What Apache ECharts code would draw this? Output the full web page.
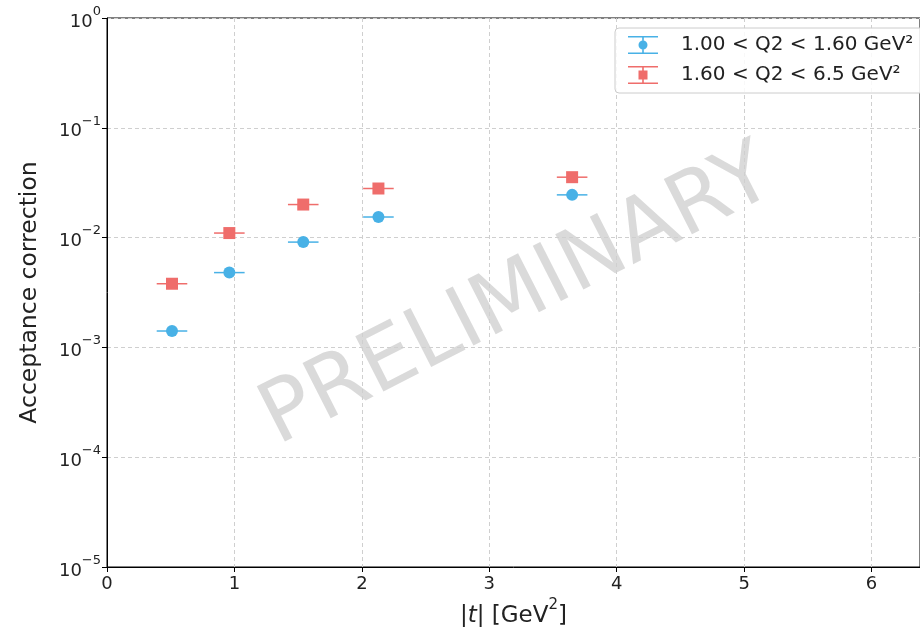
<!DOCTYPE html>
<html>
<head>
<meta charset="utf-8">
<script src="https://cdn.jsdelivr.net/npm/echarts@6/dist/echarts.min.js"></script>
<style>
  html, body { margin: 0; padding: 0; background: #fff; }
  #main { width: 920px; height: 628px; }
</style>
</head>
<body>
<div id="main"></div>
<script>
// |t| bins and acceptance values
var tLow = [0.51, 0.96, 1.54, 2.13, 3.65];
var accLow = [1.41e-3, 4.8e-3, 9.1e-3, 1.54e-2, 2.45e-2];
var tHigh = [0.51, 0.96, 1.54, 2.13, 3.65];
var accHigh = [3.8e-3, 1.1e-2, 2.0e-2, 2.8e-2, 3.55e-2];
var tErr = [0.12, 0.12, 0.12, 0.12, 0.12];
var names = ['1.00 < Q2 < 1.60 GeV²', '1.60 < Q2 < 6.5 GeV²'];
var colors = ['#48b1e6', '#ef6d6b'];

var FONT = 'DejaVu Sans';
var chart = echarts.init(document.getElementById('main'));

function pts(xs, ys) {
  return xs.map(function (x, i) { return [x, ys[i], tErr[i]]; });
}

// horizontal error bar
function errBar(color) {
  return function (params, api) {
    var x = api.value(0), y = api.value(1), e = api.value(2);
    var a = api.coord([x - e, y]);
    var b = api.coord([x + e, y]);
    return {
      type: 'line',
      shape: { x1: a[0], y1: a[1], x2: b[0], y2: b[1] },
      style: { stroke: color, lineWidth: 1.5 }
    };
  };
}

// legend icons: vertical error bar with caps + marker
var capPath = 'M0,0 h30 v1.6 h-30 z M0,16.4 h30 v1.6 h-30 z M14.2,0 h1.6 v4.5 h-1.6 z M14.2,13.5 h1.6 v4.5 h-1.6 z ';
var iconCircle = 'path://' + capPath + 'M19.5,9 A4.5,4.5 0 1 1 10.5,9 A4.5,4.5 0 1 1 19.5,9 z';
var iconSquare = 'path://' + capPath + 'M10.5,4.5 h9 v9 h-9 z';

function supLabel(v) {
  var e = Math.round(Math.log(v) / Math.LN10);
  var s = e < 0 ? '\u2212' + (-e) : String(e);
  return '{b|10}{s|' + s + '}';
}

var option = {
  backgroundColor: '#fff',
  animation: false,
  grid: {
    left: 107, right: 0, top: 18, bottom: 61,
    outerBoundsMode: 'none', containLabel: false,
    show: true, borderColor: '#000', borderWidth: 1
  },
  xAxis: {
    type: 'value', min: 0, max: 6.38, interval: 1,
    name: '{a||}{i|t}{a|| [GeV}{s|2}{a|]}',
    nameLocation: 'middle', nameGap: 26,
    nameTextStyle: {
      rich: {
        a: { fontFamily: FONT, fontSize: 23, color: '#222', verticalAlign: 'bottom', lineHeight: 30 },
        i: { fontFamily: FONT, fontSize: 23, color: '#222', fontStyle: 'italic', verticalAlign: 'bottom', lineHeight: 30 },
        s: { fontFamily: FONT, fontSize: 15, color: '#222', verticalAlign: 'top', lineHeight: 30 }
      }
    },
    axisLine: { onZero: false, lineStyle: { color: '#000', width: 1 } },
    axisTick: { show: true, inside: false, length: 5, lineStyle: { color: '#000' } },
    axisLabel: { showMaxLabel: false, fontFamily: FONT, fontSize: 18, color: '#222', margin: 8 },
    splitLine: { show: true, lineStyle: { color: '#cfcfcf', type: [4, 3], width: 1 } }
  },
  yAxis: {
    type: 'log', logBase: 10, min: 1e-5, max: 1,
    name: 'Acceptance correction',
    nameLocation: 'middle', nameGap: 65,
    nameTextStyle: { fontFamily: FONT, fontSize: 23.5, color: '#222' },
    axisLine: { lineStyle: { color: '#000', width: 1 } },
    axisTick: { show: true, inside: false, length: 5, lineStyle: { color: '#000' } },
    axisLabel: {
      formatter: supLabel, margin: 6,
      rich: {
        b: { fontFamily: FONT, fontSize: 18, color: '#222', verticalAlign: 'bottom', lineHeight: 26 },
        s: { fontFamily: FONT, fontSize: 13, color: '#222', verticalAlign: 'top', lineHeight: 26 }
      }
    },
    splitLine: { show: true, lineStyle: { color: '#cfcfcf', type: [4, 3], width: 1 } }
  },
  legend: {
    orient: 'vertical', left: 615, top: 28,
    padding: [7, 24, 8, 13],
    itemWidth: 30, itemHeight: 18, itemGap: 10,
    backgroundColor: 'rgba(255,255,255,0.85)',
    borderColor: '#cccccc', borderWidth: 1, borderRadius: 4,
    textStyle: { fontFamily: FONT, fontSize: 20, color: '#222', padding: [0, 0, 0, 18] },
    data: [
      { name: names[0], icon: iconCircle },
      { name: names[1], icon: iconSquare }
    ]
  },
  graphic: [{
    type: 'text',
    x: 518, y: 298, rotation: 27 * Math.PI / 180,
    style: {
      text: 'PRELIMINARY', fontFamily: FONT, fontSize: 85,
      fill: 'rgba(150,150,150,0.35)', align: 'center', verticalAlign: 'middle'
    },
    silent: true, z: 0
  }],
  series: [
    {
      name: names[0], type: 'custom', renderItem: errBar(colors[0]),
      data: pts(tLow, accLow), itemStyle: { color: colors[0] }, z: 3
    },
    {
      name: names[1], type: 'custom', renderItem: errBar(colors[1]),
      data: pts(tHigh, accHigh), itemStyle: { color: colors[1] }, z: 3
    },
    {
      name: names[0], type: 'scatter', symbol: 'circle', symbolSize: 12,
      data: pts(tLow, accLow), itemStyle: { color: colors[0], opacity: 1 }, z: 4
    },
    {
      name: names[1], type: 'scatter', symbol: 'rect', symbolSize: 12,
      data: pts(tHigh, accHigh), itemStyle: { color: colors[1], opacity: 1 }, z: 4
    }
  ]
};

chart.setOption(option);
</script>
</body>
</html>
